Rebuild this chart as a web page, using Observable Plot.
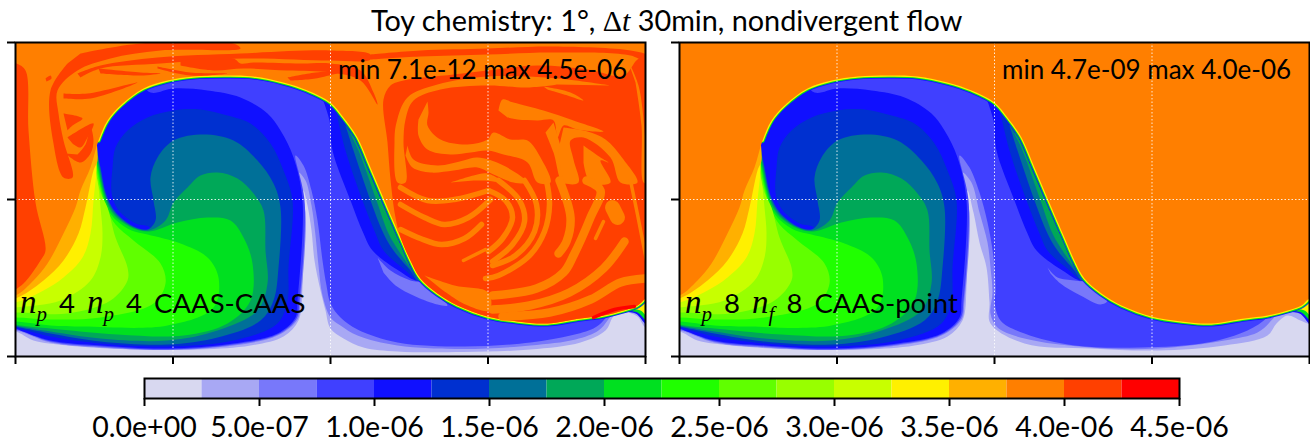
<!DOCTYPE html>
<html><head><meta charset="utf-8">
<script src="https://cdn.jsdelivr.net/npm/d3@7"></script>
<script src="https://cdn.jsdelivr.net/npm/@observablehq/plot@0.6"></script>
<style>
html,body{margin:0;padding:0;background:#fff;overflow:hidden}
#root{position:relative;width:1310px;height:441px;font-family:Lato,sans-serif;color:#000}
#root svg{position:absolute;overflow:visible;background:transparent}
.t{position:absolute;white-space:nowrap;line-height:30px;z-index:3}
.m{font-family:"Liberation Serif",serif;font-style:italic;font-size:33px}
.m sub{font-size:21px;line-height:0}
.r{font-family:"Liberation Serif",serif;font-size:30px}
</style></head><body><div id="root"></div>
<script>
// contour levels of the colour bar and their colours
const levels=d3.range(1,18).map(i=>i*0.25e-6);
const colors=["#d8d8f0","#a8a8f4","#7878fa","#4040ff","#1010ff","#0030d0","#007098","#00a858","#00e020","#20ff00","#60ff00","#98ff00","#c8ff00","#fff000","#ffb000","#ff7f00","#ff4000","#ff0000"];
const barTicks=d3.range(0,10).map(i=>i*0.5e-6);
const barLabels=["0.0e+00","5.0e-07","1.0e-06","1.5e-06","2.0e-06","2.5e-06","3.0e-06","3.5e-06","4.0e-06","4.5e-06"];
const lonTicks=[-180,-90,0,90,180], latTicks=[-90,0,90];

// contours as flat [column,row] lists on the 630 x 314 sample grid (row 0 = north)
const OUT=[650,-20,-20,-20];
const frontEdge=[630,256,622,263,608,268,588,273,565,276,532,281,502,279,472,274,442,263,422,251,405,236,395,218,385,195,372,165,355,125,342,95,328,75,315,60,292,48,268,40,238,34,212,33,178,34,152,38,128,46,105,63,92,78,83,98];
const frontToGyre=frontEdge.slice(0,26);
const t375=[-20,-20,650,-20,650,256,...frontEdge,75,125,65,148,60,165,48,191,32,221,18,238,0,253,-20,256];
const t350=[80,90,82,118,78,128,70,165,63,191,48,218,28,238,0,256,-20,258,-20,-20];
const t325=[81,110,81,128,78,158,75,191,67,215,48,235,28,248,0,260,-20,262,-20,-20];
const t300=[80,105,80,125,83,145,85,165,87,191,85,215,75,238,45,258,0,265,-20,267,-20,-20];
const t275=[80,105,80,125,85,150,92,165,100,195,112,225,112,238,95,258,52,271,0,270,-20,272,-20,-20];
const t250=[78,100,81,125,86,150,92,168,100,182,118,198,145,221,150,241,138,261,85,275,35,277,0,275,-20,276,-20,-20];
const t225=[78,100,82,125,87,150,93,168,101,178,116,188,132,192,165,201,192,215,203,235,198,265,152,283,68,284,35,283,0,279,-20,280,-20,-20];
const t200=[79,100,83,125,88,150,94,166,102,176,118,186,134,189,162,180,192,175,215,178,228,195,237,221,235,258,212,281,168,293,102,292,35,286,5,283,0,282,-20,283,-20,-20];
const t175=[80,100,84,125,89,150,95,165,103,175,118,185,133,188,150,178,158,160,172,145,185,133,202,130,222,136,238,151,248,168,250,208,252,241,242,268,202,288,152,298,85,296,35,289,5,284,0,283,-20,284,-20,-20];
const t150=[80,100,85,125,90,150,96,164,104,174,118,184,132,187,140,178,138,158,135,135,142,115,158,98,188,92,218,98,242,118,258,141,265,165,263,225,258,258,245,278,202,295,152,302,85,299,35,291,5,285,0,284,-20,285,-20,-20];
const t125=[0,285,100,250,135,186,120,181,107,172,100,163,96,150,97,125,100,105,112,88,132,75,158,68,185,67,212,73,235,81,255,101,268,128,277,158,273,225,272,258,262,281,218,298,152,304,85,301,35,294,5,286];
const t100=[-20,287,0,286,5,288,35,298,85,303,152,306,218,301,262,291,280,275,282,258,287,158,278,115,265,88,252,71,225,55,192,48,158,46,135,50,120,35,-20,-20];
const t100arm=[307,56,314,78,317,108,335,158,348,191,357,208,383,228,403,238,412,225,345,60,300,40];
const t125arm=[320,66,330,108,347,158,360,191,368,208,390,228,403,238,412,225,345,60];
const t150arm=[330,83,338,108,355,158,368,191,378,208,395,228,403,238,412,225,345,60];
const t175arm=[335,91,343,108,361,158,373,191,383,208,398,230,403,238,412,225,345,60];
const t200arm=[338,95,346,108,366,158,380,191,387,208,400,233,403,238,412,225,345,60];
const t100wedge=[600,270,620,271,632,283,650,286,650,240,610,240];
const t200wedge=[608,268,622,270,632,279,650,282,650,240,610,240];
const t325wedge=[613,266,625,268,632,274,650,277,650,240,612,240];
// low bands: left of the stem (shared), right of the stem per panel
const t75left=[-20,288,0,287,35,299,85,304,152,307,218,302,262,292,281,276,284,258,289,158,280,113];
const t50left=[-20,289,0,288,35,300,85,305,152,307.5,218,303,262,293,282,277,285,258,290,170,283,130];
const t25left=[-20,290,0,289,18,298,52,303,118,307,185,307,235,303,268,294,283,278,287,245,287,190,288,148];
const t75rightA=[288,123,296,148,302,178,307,218,311,243,315,261,325,275,342,287,382,300,448,304,515,300,555,293,578,286,588,278,600,260];
const t50rightA=[290,138,296,163,300,193,303,223,307,253,315,275,325,283,342,293,382,303,448,306.5,515,303,560,297,583,288,592,278,602,262];
const t25rightA=[292,163,296,188,299,218,305,248,310,268,315,286,328,296,348,305,382,309,448,309.5,515,307,565,300,590,288,597,275,603,268,610,269,622,274,630,285,650,292];
const t75rightB=[290,125,300,150,308,180,314,215,316,250,315,258,321,278,345,291,395,303,461,305,528,300,568,288,588,275,600,260];
const t50rightB=[292,140,300,170,308,200,311,225,313,250,311,271,318,285,345,296,411,305,478,306,545,298,578,290,590,280,602,262];
const t25rightB=[294,170,300,200,307,225,310,260,311,281,345,301,411,306,478,308,545,303,588,293,597,281,608,273,621,278,628,281,650,290];
const islandA=[362,215,375,228,395,238,409,241,432,263,422,262,400,254,380,243,368,230];
const islandB=[368,225,378,235,395,238,411,241,428,258,421,262,401,253,381,241,371,231];
// panel 1 mixing filaments: 4.0e-06 band
const gyre=[...frontToGyre,380,175,375,137,372,100,368,57,375,43,388,38,438,32,472,28,522,23,572,27,608,33,622,17,632,13,650,13,650,256];
const topStripe=[355,12,405,8,472,6,538,4,615,8,632,13,632,20,615,13,538,10,472,12,405,14,355,17];
const leftBand=[-5,20,1,21,10,28,13,88,20,160,30,208,25,218,8,241,-5,250];
const wisps400=[
 [65,11,125,1,218,1,225,6,145,8,95,16,62,28,42,48,43,71,48,98,57,135,48,135,38,101,35,48,52,21],
 [62,31,85,23,142,15,225,11,315,8,355,12,355,17,315,18,228,16,145,21,85,26,65,35],
 [165,18,218,16,225,21,238,20,285,21,315,21,345,28,358,50,362,62,345,38,315,30,272,28,228,26,198,28,165,23],
 [83,26,125,30,145,31,125,33,85,31],[142,24,175,30,212,31,175,33,142,26],[272,35,300,30,330,28,300,36,275,38],
 [48,51,72,51,122,40,75,56,48,56],[52,95,78,81,72,95,65,105,57,101],[48,71,67,76,57,83,52,88],
 [50,111,65,120,75,111,78,98,75,85,70,102,62,112],[30,36,35,33,36,36,31,39]];
const wisps425=[578,275,599,267,619,264];
// 3.75-4.0e-06 streaks inside the gyre
const gyrePatches=[
 [595,43,542,36,472,34,422,42,392,55,381,80,379,100,382,140,390,140,388,100,390,77,398,58,425,47,472,43,512,45,542,42],
 [412,59,413,70,412,83,425,97,452,102,472,97,478,90,495,97,512,98,525,115,535,140,522,140,512,120,488,112,472,108,455,110,435,112,412,107,403,93,403,77],
 [392,103,398,117,422,123,448,118,462,115,488,123,512,140,498,140,478,132,462,125,438,128,415,130,397,125,390,113],
 [435,140,458,133,472,131,488,140,470,138,458,138],
 [483,68,487,57,498,60,528,68,558,78,588,89,562,87,548,83,542,95,538,78,522,78,502,77,492,75],
 [538,80,547,110,555,140,547,140,538,110,530,90],
 [548,85,572,89,590,97,608,117,622,140,605,140,595,115,568,95,555,98,558,117,563,140,550,140,543,107],
 [568,103,585,115,593,120,585,118,595,140,575,140,568,120],
 [528,44,555,50,568,58,552,53,532,47],
 [612,17,623,43,630,100,632,140,628,140,626,83,620,40],
 [409,233,439,243,473,250,474,268,450,262,425,246]];
const streaksFine=[[448,218,470,207],[615,138,622,172,632,223],[588,179,580,196]];
const streaksThin=[[385,187,405,196,426,202,449,196,466,182],[473,148,490,158,497,175,487,196,473,209],[483,138,504,158,509,179,497,202,477,219],[509,138,521,162,519,189,500,213,477,223],[385,162,409,175,429,182,453,175,475,157],[385,145,412,158,439,157,473,148],[531,138,534,162,529,189,514,213,483,233,470,236]];
const streaksMid=[[544,138,555,175,551,199,543,211],[571,138,585,148,575,175,558,213,548,230,521,246,477,253],[609,199,588,226,554,250,514,263,477,267],[629,236,605,240,575,257,534,270,487,274]];
const streaksWide=[[597,165,602,175]];

const toLon=c=>c*360/630-180, toLat=r=>90-r*180/314;
let uid=0;
function rows(list){
  const out=[];
  for(const [v,p] of list){const id=uid++;for(let i=0;i<p.length;i+=2)out.push({id,v,lon:toLon(p[i]),lat:toLat(p[i+1])});}
  return out;
}
const color={type:"threshold",domain:levels,range:colors};
const x={domain:[-180,180]}, y={domain:[-90,90]};
const L=i=>i*0.25e-6+1e-8;

function panel(left,variant){
  const A=variant==="A";
  const low=[[L(1),[...t25left,...(A?t25rightA:t25rightB),...OUT]],[L(2),[...t50left,...(A?t50rightA:t50rightB),...OUT]],[L(3),[...t75left,...(A?t75rightA:t75rightB),...OUT]],[L(2),A?islandA:islandB],
    [L(4),t100],[L(4),t100arm],[L(4),t100wedge],[L(5),t125],[L(5),t125arm],[L(6),t150],[L(6),t150arm],[L(7),t175],[L(7),t175arm],[L(8),t200],[L(8),t200arm],[L(8),t200wedge],
    [L(9),t225],[L(10),t250],[L(11),t275],[L(12),t300],[L(13),t325],[L(13),t325wedge],[L(14),t350]];
  const line=(list,w)=>Plot.line(rows(list),{x:"lon",y:"lat",z:"id",stroke:"v",strokeWidth:w,curve:"catmull-rom",clip:true});
  const fill=list=>Plot.line(rows(list),{x:"lon",y:"lat",z:"id",fill:"v",stroke:"none",curve:"catmull-rom",clip:true});
  const marks=[
    Plot.rect([{}],{x1:-180,x2:180,y1:-90,y2:90,fill:()=>0}),
    fill(low),
    line([[L(4),frontEdge]],6),line([[L(8),frontEdge]],4.4),line([[L(13),frontEdge]],2.4),
    fill([[L(15),t375]])
  ];
  if(A) marks.push(
    fill([[L(16),gyre],[L(16),topStripe],[L(16),leftBand],...wisps400.map(p=>[L(16),p])]),
    fill(gyrePatches.map(p=>[L(15),p])),
    line(streaksFine.map(p=>[L(15),p]),3.5),
    line(streaksThin.map(p=>[L(15),p]),5.5),
    line(streaksMid.map(p=>[L(15),p]),8.5),
    line(streaksWide.map(p=>[L(15),p]),15),
    line([[L(17),wisps425]],3.5)
  );
  marks.push(
    Plot.gridX(lonTicks.slice(1,-1),{stroke:"#fff",strokeOpacity:.85,strokeDasharray:"1.5,2",strokeWidth:1}),
    Plot.gridY(latTicks.slice(1,-1),{stroke:"#fff",strokeOpacity:.85,strokeDasharray:"1.5,2",strokeWidth:1}),
    Plot.frame({stroke:"#000",strokeWidth:2}),
    Plot.axisX({ticks:lonTicks,tickFormat:()=>"",tickSize:8,strokeWidth:2,label:null,anchor:"bottom"}),
    Plot.axisY({ticks:latTicks,tickFormat:()=>"",tickSize:8,strokeWidth:2,label:null,anchor:"left"})
  );
  const svg=Plot.plot({width:646,height:370,marginLeft:15,marginRight:1,marginTop:42,marginBottom:14,x,y,color,marks});
  svg.style.left=left+"px";svg.style.top="0px";
  return svg;
}
const root=document.getElementById("root");
root.append(panel(0,"A"),panel(663.5,"B"));

const bandRows=colors.map((c,i)=>({x1:i*0.25e-6,x2:(i+1)*0.25e-6,v:(i+0.5)*0.25e-6}));
const bar=Plot.plot({width:1310,height:69,marginLeft:144,marginRight:131,marginTop:6,marginBottom:43,
  style:{fontFamily:"Lato,sans-serif",fontSize:"28.5px",color:"#000"},
  x:{domain:[0,4.5e-6]},color,
  marks:[
    Plot.barX(bandRows,{x1:"x1",x2:"x2",fill:"v"}),
    Plot.frame({stroke:"#000",strokeWidth:2}),
    Plot.axisX({ticks:barTicks,tickFormat:(d,i)=>barLabels[i],tickSize:8,tickPadding:10,strokeWidth:2,label:null,anchor:"bottom",fontSize:28.5})
  ]});
bar.style.left="0px";bar.style.top="372px";
root.append(bar);

const texts=[
 [371,5,28.8,0,'Toy chemistry: 1°, <span class="r">Δ</span><span class="m" style="font-size:30px">t</span> 30min, nondivergent flow'],
 [338,54,26,0,'min 7.1e-12 max 4.5e-06'],
 [1002,54,26,0,'min 4.7e-09 max 4.0e-06'],
 [20,287,27.5,5,'<span class="m">n<sub>p</sub></span> 4 <span class="m">n<sub>p</sub></span> 4 CAAS-CAAS'],
 [685,287,27.5,5,'<span class="m">n<sub>p</sub></span> 8 <span class="m">n<sub>f</sub></span> 8 CAAS-point']
];
for(const [l,t,s,w,h] of texts){const d=document.createElement("div");d.className="t";d.style.left=l+"px";d.style.top=t+"px";d.style.fontSize=s+"px";d.style.wordSpacing=w+"px";d.innerHTML=h;root.append(d);}
</script></body></html>
